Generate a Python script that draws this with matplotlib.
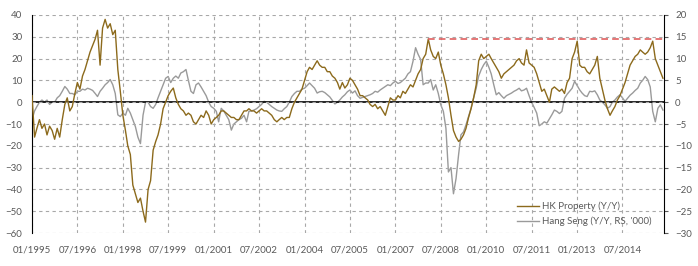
import numpy as np
import pandas as pd
import matplotlib
matplotlib.use('Agg')
import matplotlib.pyplot as plt

# monthly readings, Jan 1995 .. Nov 2015 (one row per year)
hk_property = [
    3, -16, -12, -8, -12, -10, -15, -11, -13, -17, -12, -16,      # 1995
    -8, -1, 2, -4, -2, 4, 9, 6, 12, 15, 19, 23,                   # 1996
    26, 29, 33, 17, 34, 38, 34, 36, 31, 33, 15, 5,                # 1997
    -6, -13, -20, -24, -38, -42, -46, -44, -50, -55, -40, -36,    # 1998
    -22, -18, -15, -10, -3, 0, 3, 5, 6.5, 2, -1, -3,              # 1999
    -4, -6, -5, -6, -9, -10, -8, -6, -7, -4, -6, -10,             # 2000
    -8, -7, -6, -4, -4, -5, -6, -7, -7, -8, -8, -6,               # 2001
    -4, -4, -3, -4, -4, -5, -4, -3, -4, -4, -5, -6,               # 2002
    -8, -9, -8, -7, -8, -7, -7, -3, 0, 2, 4, 6,                   # 2003
    10, 14, 16, 15, 17, 19, 17, 16, 16, 14, 14, 12,               # 2004
    11, 9, 6, 9, 6.5, 8, 11, 10, 8, 6, 3, 3,                      # 2005
    2, 1, -1, -2, -1, -3, -2, -4, -6, -2, 2, 1,                   # 2006
    1, 3, 2, 5, 4, 6, 8, 7, 10, 13, 15, 20,                       # 2007
    22, 29, 24, 21, 20, 23, 17, 13, 8, 2, -6, -13,                # 2008
    -16, -18, -17, -15, -12, -7, -3, 2, 8, 19, 22, 20,            # 2009
    21, 22, 20, 18, 16, 14, 11, 13, 14, 15, 16, 17,               # 2010
    19, 20, 18, 17, 24, 18, 17, 16, 13, 9, 5, 6,                  # 2011
    3, 0, 6, 7, 6, 5, 6, 4, 9, 11, 20, 23,                        # 2012
    28, 17, 16, 16, 14, 13, 15, 17, 21, 11, 6, 1,                 # 2013
    -3, -6, -4, -2, 1, 3, 6, 9, 13, 17, 19, 21,                   # 2014
    22, 24, 23, 22, 23, 25, 28, 20, 17, 14, 11,                   # 2015
]

hang_seng = [
    -4, -2, -1, 0, 0.5, 0, 0.5, -0.5, 0, 0, 1, 1.5,
    2.5, 3.6, 3, 2, 2, 1.7, 2.5, 2.5, 3, 2.8, 3.2, 3,
    2.7, 2, 1.3, 2.5, 3.2, 4, 4.5, 5.2, 4, 2, -2.9, -3.3,
    -2.5, -3, -1.4, -2.5, -4, -5.6, -8, -9.5, -3, 0, 0, -1,
    -1.4, -0.5, 1, 2.5, 4, 5.5, 5.9, 4.5, 5.5, 6, 5.5, 6.7,
    7, 7.5, 5, 2.5, 2, 4, 4.4, 3.5, 2.5, 1.5, 0, -1,
    -1.4, -2.1, -4.5, -1.4, -2, -3, -4, -6.4, -5, -4.5, -4, -3.7,
    -3, -4.5, -2.1, -2, -1.8, -1.5, -1, -0.5, 0.2, 0, -0.5, -1,
    -1.4, -1.8, -2, -2.1, -1.5, -1, 0, 1.3, 2, 2.5, 2.5, 3,
    3.2, 3.8, 4.4, 3.8, 3.2, 2.1, 2.4, 2.5, 2.2, 1.7, 1.2, 0.4,
    -0.4, 0, 0.5, 1.2, 1.7, 2.4, 2.8, 2.1, 2.6, 1.5, 0.9, 1.1,
    1.3, 1.5, 1.7, 2, 2.5, 2.3, 2.8, 3.2, 3.6, 4, 3.8, 4.4,
    4.8, 4.3, 4.5, 5, 5.5, 6.5, 7, 9.4, 12.5, 11, 9.8, 4,
    4.4, 4.4, 5.2, 2.8, 4, 2, -0.6, -2.1, -6, -16, -15, -21,
    -17.5, -12, -7.5, -6.8, -5.2, -3.3, -1.4, 1, 3.2, 6, 7.5, 8.6,
    9.4, 8, 6.5, 4, 1.7, 2.2, 1.5, 0.9, 1.5, 1.8, 2.1, 2.5,
    2.8, 3.2, 2.6, 2.8, 3.2, 1.5, 0, -1.2, -2.5, -5.4, -5, -4.5,
    -4.8, -3.8, -2.9, -1.8, -2.1, -2.6, -2.1, 0.9, 1.8, 2.5, 3.2, 4.8,
    3.8, 2.8, 2.1, 1.5, 1.3, 2.5, 2.4, 2.6, 1.7, 0.5, 0, -0.6,
    -1.4, -1, 0, 0.5, 1.2, 1.7, 1, 0.2, 0.9, 1.6, 2.1, 2.7,
    3.2, 4.4, 5, 5.9, 5.2, 3.5, -2.1, -4.5, -1.4, -0.6, -1.8,
]

tick_labels = ['01/1995', '07/1996', '01/1998', '07/1999', '01/2001', '07/2002',
               '01/2004', '07/2005', '01/2007', '07/2008', '01/2010', '07/2011',
               '01/2013', '07/2014']
left_ticks = list(range(-60, 41, 10))
right_ticks = list(range(-30, 21, 5))

dates = pd.date_range('1995-01-01', periods=len(hk_property), freq='MS')
tick_dates = pd.to_datetime(tick_labels, format='%m/%Y')
x_end = pd.Timestamp('2015-11-14')

plt.rcParams['font.family'] = ['Lato', 'DejaVu Sans']
txt = '#595959'
gold = '#8c6a1c'
grey = '#9a9a9a'

fig = plt.figure(figsize=(6.98, 2.66), dpi=100)
ax = fig.add_axes([32 / 698, 1 - 233 / 266, (664 - 32) / 698, (233 - 15) / 266])
ax2 = ax.twinx()
ax.set_zorder(ax2.get_zorder() + 1)
ax.patch.set_visible(False)

# grid + zero line
ax.set_xlim(dates[0], x_end)
ax.set_ylim(-60, 40)
ax2.set_ylim(-30, 20)
ax.set_yticks(left_ticks)
ax2.set_yticks(right_ticks)
ax.set_xticks(tick_dates)
ax.set_xticklabels(tick_labels)
ax.grid(True, ls=(0, (3, 3)), color='#a8a8a8', lw=0.8)
ax.axhline(0, color='black', lw=1.2, zorder=1)

l2, = ax2.plot(dates, hang_seng, color=grey, lw=1.0, label="Hang Seng (Y/Y, RS, '000)")
l1, = ax.plot(dates, hk_property, color=gold, lw=1.0, label='HK Property (Y/Y)', zorder=3)

# red dashed line at the 2008 peak level
after = np.where(dates >= pd.Timestamp('2005-01-01'))[0]
pk = after[np.argmax(np.array(hk_property)[after])]
ax.hlines(hk_property[pk], dates[pk], x_end, colors='#e06060',
          linestyles=(0, (4, 2.5)), lw=1.2, zorder=4)

for s in ['top', 'bottom', 'right']:
    ax.spines[s].set_visible(False)
for s in ['top', 'bottom', 'left']:
    ax2.spines[s].set_visible(False)
ax.spines['left'].set_color('black')
ax2.spines['right'].set_color('black')

ax.tick_params(axis='x', length=0, labelsize=7, colors=txt, pad=9)
ax.tick_params(axis='y', length=0, labelsize=7, colors=txt, pad=7)
ax2.tick_params(axis='y', length=3, direction='out', labelsize=7, colors=txt, pad=5)

ax.legend(handles=[l1, l2], loc='lower left', bbox_to_anchor=(0.767, 0.03),
          frameon=False, fontsize=7, handlelength=2.3, handletextpad=0.3,
          labelspacing=0.6, borderpad=0, borderaxespad=0, labelcolor=txt)

fig.savefig('out.png', dpi=100)
